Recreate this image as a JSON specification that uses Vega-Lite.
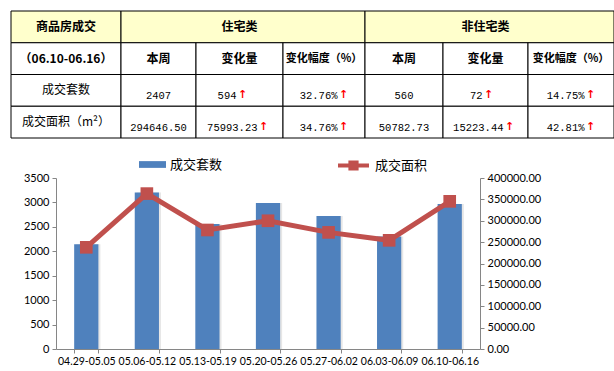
{
  "$schema": "https://vega.github.io/schema/vega-lite/v6.json",
  "padding": {"left": 10, "top": 10, "right": 0, "bottom": 0},
  "spacing": 33,
  "config": {"view": {"stroke": null}, "font": "Lato"},
  "datasets": {
    "table": [
      {"row": 0, "c0": 0, "c1": 1, "cm": 0.5, "text": "商品房成交", "kind": "head"},
      {"row": 0, "c0": 1, "c1": 4, "cm": 2.5, "text": "住宅类", "kind": "head"},
      {"row": 0, "c0": 4, "c1": 7, "cm": 5.5, "text": "非住宅类", "kind": "head"},
      {"row": 1, "c0": 0, "c1": 1, "cm": 0.5, "text": "（06.10-06.16）", "kind": "head"},
      {"row": 1, "c0": 1, "c1": 2, "cm": 1.5, "text": "本周", "kind": "head"},
      {"row": 1, "c0": 2, "c1": 3, "cm": 2.5, "text": "变化量", "kind": "head"},
      {"row": 1, "c0": 3, "c1": 4, "cm": 3.5, "text": "变化幅度（%）", "kind": "head2"},
      {"row": 1, "c0": 4, "c1": 5, "cm": 4.5, "text": "本周", "kind": "head"},
      {"row": 1, "c0": 5, "c1": 6, "cm": 5.5, "text": "变化量", "kind": "head"},
      {"row": 1, "c0": 6, "c1": 7, "cm": 6.5, "text": "变化幅度（%）", "kind": "head2"},
      {"row": 2, "c0": 0, "c1": 1, "cm": 0.5, "text": "成交套数", "kind": "label"},
      {"row": 2, "c0": 1, "c1": 2, "cm": 1.5, "text": "2407", "kind": "num"},
      {"row": 2, "c0": 2, "c1": 3, "cm": 2.5, "text": "594", "kind": "amt", "arrow": "↑"},
      {"row": 2, "c0": 3, "c1": 4, "cm": 3.5, "text": "32.76%", "kind": "pct", "arrow": "↑"},
      {"row": 2, "c0": 4, "c1": 5, "cm": 4.5, "text": "560", "kind": "num"},
      {"row": 2, "c0": 5, "c1": 6, "cm": 5.5, "text": "72", "kind": "amt", "arrow": "↑"},
      {"row": 2, "c0": 6, "c1": 7, "cm": 6.5, "text": "14.75%", "kind": "pct", "arrow": "↑"},
      {"row": 3, "c0": 0, "c1": 1, "cm": 0.5, "text": "成交面积（m²）", "kind": "label"},
      {"row": 3, "c0": 1, "c1": 2, "cm": 1.5, "text": "294646.50", "kind": "num"},
      {"row": 3, "c0": 2, "c1": 3, "cm": 2.5, "text": "75993.23", "kind": "amt", "arrow": "↑"},
      {"row": 3, "c0": 3, "c1": 4, "cm": 3.5, "text": "34.76%", "kind": "pct", "arrow": "↑"},
      {"row": 3, "c0": 4, "c1": 5, "cm": 4.5, "text": "50782.73", "kind": "num"},
      {"row": 3, "c0": 5, "c1": 6, "cm": 5.5, "text": "15223.44", "kind": "amt", "arrow": "↑"},
      {"row": 3, "c0": 6, "c1": 7, "cm": 6.5, "text": "42.81%", "kind": "pct", "arrow": "↑"}
    ],
    "weeks": [
      {"week": "04.29-05.05", "count": 2143, "area": 237900},
      {"week": "05.06-05.12", "count": 3205, "area": 363500},
      {"week": "05.13-05.19", "count": 2558, "area": 278400},
      {"week": "05.20-05.26", "count": 2990, "area": 300000},
      {"week": "05.27-06.02", "count": 2720, "area": 272800},
      {"week": "06.03-06.09", "count": 2301, "area": 254213},
      {"week": "06.10-06.16", "count": 2967, "area": 345429}
    ]
  },
  "vconcat": [
    {
      "width": 558,
      "height": 127,
      "data": {"name": "table"},
      "encoding": {
        "y": {"field": "row", "type": "ordinal", "axis": null, "scale": {"paddingInner": 0, "paddingOuter": 0}}
      },
      "layer": [
        {
          "mark": {"type": "rect", "stroke": "#000000", "strokeWidth": 1},
          "encoding": {
            "x": {"field": "c0", "type": "quantitative", "axis": null,
                  "scale": {"type": "linear", "domain": [0, 1, 2, 3, 4, 5, 6, 7], "range": [-45, 65, 140, 227, 309, 387, 472, 558], "zero": false, "nice": false}},
            "x2": {"field": "c1"},
            "fill": {"condition": {"test": "datum.row === 0", "value": "#FFFFCC"}, "value": "#FFFFFF"}
          }
        },
        {
          "transform": [{"filter": "datum.kind === 'head'"}],
          "mark": {"type": "text", "font": "Noto Sans CJK SC", "fontWeight": "bold", "fontSize": 12, "color": "#000000"},
          "encoding": {"x": {"field": "cm", "type": "quantitative"}, "text": {"field": "text"}}
        },
        {
          "transform": [{"filter": "datum.kind === 'head2'"}],
          "mark": {"type": "text", "font": "Noto Sans CJK SC", "fontWeight": "bold", "fontSize": 11, "color": "#000000"},
          "encoding": {"x": {"field": "cm", "type": "quantitative"}, "text": {"field": "text"}}
        },
        {
          "transform": [{"filter": "datum.kind === 'label'"}],
          "mark": {"type": "text", "font": "Noto Sans CJK SC", "fontSize": 12, "color": "#000000"},
          "encoding": {"x": {"field": "cm", "type": "quantitative"}, "text": {"field": "text"}}
        },
        {
          "transform": [{"filter": "datum.kind === 'num'"}],
          "mark": {"type": "text", "font": "Liberation Mono", "fontSize": 10.5, "color": "#000000", "dy": 6},
          "encoding": {"x": {"field": "cm", "type": "quantitative"}, "text": {"field": "text"}}
        },
        {
          "transform": [{"filter": "datum.kind === 'amt' && datum.row === 2"}],
          "mark": {"type": "text", "font": "Liberation Mono", "fontSize": 10.5, "color": "#000000", "dy": 6, "align": "right", "dx": -3},
          "encoding": {"x": {"field": "cm", "type": "quantitative"}, "text": {"field": "text"}}
        },
        {
          "transform": [{"filter": "datum.kind === 'amt' && datum.row === 2"}],
          "mark": {"type": "text", "font": "DejaVu Sans", "fontWeight": "bold", "fontSize": 11, "color": "#FF0000", "dy": 5, "align": "left", "dx": -1.5},
          "encoding": {"x": {"field": "cm", "type": "quantitative"}, "text": {"field": "arrow"}}
        },
        {
          "transform": [{"filter": "datum.kind === 'amt' && datum.row === 3"}],
          "mark": {"type": "text", "font": "Liberation Mono", "fontSize": 10.5, "color": "#000000", "dy": 6, "align": "right", "dx": 18},
          "encoding": {"x": {"field": "cm", "type": "quantitative"}, "text": {"field": "text"}}
        },
        {
          "transform": [{"filter": "datum.kind === 'amt' && datum.row === 3"}],
          "mark": {"type": "text", "font": "DejaVu Sans", "fontWeight": "bold", "fontSize": 11, "color": "#FF0000", "dy": 5, "align": "left", "dx": 19.5},
          "encoding": {"x": {"field": "cm", "type": "quantitative"}, "text": {"field": "arrow"}}
        },
        {
          "transform": [{"filter": "datum.kind === 'pct'"}],
          "mark": {"type": "text", "font": "Liberation Mono", "fontSize": 10.5, "color": "#000000", "dy": 6, "align": "right", "dx": 13.5},
          "encoding": {"x": {"field": "cm", "type": "quantitative"}, "text": {"field": "text"}}
        },
        {
          "transform": [{"filter": "datum.kind === 'pct'"}],
          "mark": {"type": "text", "font": "DejaVu Sans", "fontWeight": "bold", "fontSize": 11, "color": "#FF0000", "dy": 5, "align": "left", "dx": 15},
          "encoding": {"x": {"field": "cm", "type": "quantitative"}, "text": {"field": "arrow"}}
        }
      ]
    },
    {
      "width": 424,
      "height": 171,
      "data": {"name": "weeks"},
      "encoding": {
        "x": {"field": "week", "type": "ordinal", "sort": null,
              "scale": {"paddingInner": 0.6, "paddingOuter": 0.3},
              "axis": {"title": null, "labelAngle": 0, "tickBand": "extent", "domainColor": "#868686", "tickColor": "#868686", "tickSize": 4,
                       "labelFont": "Lato", "labelFontSize": 10.5, "labelColor": "#000000", "labelPadding": 3, "labelOverlap": false}}
      },
      "layer": [
        {
          "encoding": {
            "y": {"field": "count", "type": "quantitative", "scale": {"domain": [0, 3500], "nice": false},
                  "axis": {"title": null, "orient": "left", "tickCount": 8, "values": [0, 500, 1000, 1500, 2000, 2500, 3000, 3500], "format": "d", "grid": false, "labelOverlap": false,
                           "domainColor": "#868686", "tickColor": "#868686", "tickSize": 4, "labelPadding": 3, "minExtent": 45,
                           "labelFont": "Lato", "labelFontSize": 11, "labelColor": "#000000"}}
          },
          "layer": [
            {
              "mark": {"type": "bar", "color": "#c8c8c8", "opacity": 0.45, "xOffset": 2}
            },
            {
              "mark": {"type": "bar"},
              "encoding": {
                "fill": {"datum": "成交套数", "scale": {"range": ["#4F81BD"]},
                         "legend": {"title": null, "orient": "none", "legendX": 83, "legendY": 140,
                                    "symbolType": "M-1,-0.25H1V0.25H-1Z", "symbolSize": 729, "symbolStrokeWidth": 0,
                                    "labelFont": "Noto Sans CJK SC", "labelFontSize": 13, "labelColor": "#000000", "labelOffset": 4}}
              }
            }
          ]
        },
        {
          "encoding": {
            "y": {"field": "area", "type": "quantitative", "scale": {"domain": [0, 400000], "nice": false},
                  "axis": {"title": null, "orient": "right", "tickCount": 9, "values": [0, 50000, 100000, 150000, 200000, 250000, 300000, 350000, 400000], "format": ".2f", "grid": false, "labelOverlap": false,
                           "domainColor": "#868686", "tickColor": "#868686", "tickSize": 4, "labelPadding": 3,
                           "labelFont": "Lato", "labelFontSize": 11, "labelColor": "#000000"}}
          },
          "layer": [
            {
              "mark": {"type": "line", "strokeWidth": 5},
              "encoding": {
                "stroke": {"datum": "成交面积", "scale": {"range": ["#C0504D"]},
                           "legend": {"title": null, "orient": "none", "legendX": 280, "legendY": 137,
                                      "symbolType": "M-1,0H1M-0.2,-0.2H0.2V0.2H-0.2Z", "symbolSize": 961, "symbolStrokeWidth": 4, "symbolFillColor": "#C0504D",
                                      "labelFont": "Noto Sans CJK SC", "labelFontSize": 13, "labelColor": "#000000", "labelOffset": 4}}
              }
            },
            {
              "mark": {"type": "point", "shape": "square", "filled": true, "size": 160, "color": "#C0504D", "opacity": 1}
            }
          ]
        }
      ],
      "resolve": {"scale": {"y": "independent"}}
    }
  ]
}
